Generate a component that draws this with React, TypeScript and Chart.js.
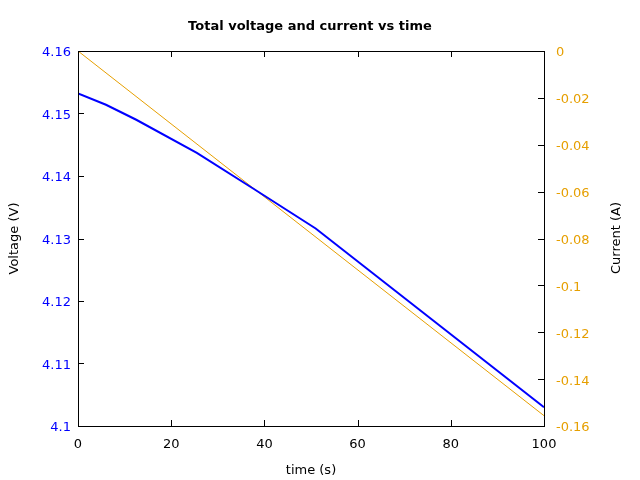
import React, { useEffect, useRef } from "react";
import { Chart, registerables } from "chart.js";

Chart.register(...registerables);

const timeVoltage = [0, 6, 12.5, 25.5, 38, 51, 100];
const voltage = [4.1532, 4.1514, 4.149, 4.1437, 4.1378, 4.1316, 4.103];
const timeCurrent = [0, 100];
const current = [0, -0.1556];
const xTicks = [0, 20, 40, 60, 80, 100];
const voltageTicks = [4.1, 4.11, 4.12, 4.13, 4.14, 4.15, 4.16];
const currentTicks = [0, -0.02, -0.04, -0.06, -0.08, -0.1, -0.12, -0.14, -0.16];

const BLUE = "#0000ff";
const ORANGE = "#e69f00";
const FONT = "'DejaVu Sans', sans-serif";

const framePlugin = {
  id: "frame",
  afterDatasetsDraw(chart: any) {
    const { ctx, chartArea } = chart;
    const { left, right, top, bottom } = chartArea;
    const x = chart.scales.x;
    const yv = chart.scales.yv;
    const yc = chart.scales.yc;
    const L = 6;
    ctx.save();
    ctx.strokeStyle = "#000";
    ctx.lineWidth = 1;
    ctx.beginPath();
    xTicks.forEach((v) => {
      const px = Math.round(x.getPixelForValue(v)) + 0.5;
      ctx.moveTo(px, bottom);
      ctx.lineTo(px, bottom - L);
      ctx.moveTo(px, top);
      ctx.lineTo(px, top + L);
    });
    voltageTicks.forEach((v) => {
      const py = Math.round(yv.getPixelForValue(v)) + 0.5;
      ctx.moveTo(left, py);
      ctx.lineTo(left + L, py);
    });
    currentTicks.forEach((v) => {
      const py = Math.round(yc.getPixelForValue(v)) + 0.5;
      ctx.moveTo(right, py);
      ctx.lineTo(right - L, py);
    });
    ctx.stroke();
    ctx.strokeRect(Math.round(left) + 0.5, Math.round(top) + 0.5, Math.round(right - left), Math.round(bottom - top));
    ctx.fillStyle = "#000";
    ctx.font = `bold 13px ${FONT}`;
    ctx.textAlign = "center";
    ctx.textBaseline = "middle";
    ctx.fillText("Total voltage and current vs time", 310, 27);
    ctx.font = `13px ${FONT}`;
    ctx.translate(617, 238);
    ctx.rotate(-Math.PI / 2);
    ctx.fillText("Current (A)", 0, 0);
    ctx.restore();
  },
};

export default function App() {
  const ref = useRef<HTMLCanvasElement>(null);
  useEffect(() => {
    if (!ref.current) return;
    const chart = new Chart(ref.current, {
      type: "line",
      data: {
        datasets: [
          {
            label: "Voltage",
            data: timeVoltage.map((t, i) => ({ x: t, y: voltage[i] })),
            borderColor: BLUE,
            borderWidth: 2,
            pointRadius: 0,
            tension: 0,
            yAxisID: "yv",
          },
          {
            label: "Current",
            data: timeCurrent.map((t, i) => ({ x: t, y: current[i] })),
            borderColor: ORANGE,
            borderWidth: 1,
            pointRadius: 0,
            tension: 0,
            yAxisID: "yc",
          },
        ],
      },
      options: {
        responsive: false,
        animation: false,
        layout: { padding: { top: 51, left: 0, right: 0, bottom: 0 } },
        plugins: { legend: { display: false }, tooltip: { enabled: false }, title: { display: false } },
        scales: {
          x: {
            type: "linear",
            min: 0,
            max: 100,
            afterFit: (s: any) => { s.height = 54; },
            afterBuildTicks: (s: any) => { s.ticks = xTicks.map((v) => ({ value: v })); },
            grid: { display: false, drawTicks: false },
            border: { display: false },
            ticks: { color: "#000", font: { family: FONT, size: 13 }, padding: 11, maxRotation: 0, callback: (v: any) => String(v) },
            title: { display: true, text: "time (s)", color: "#000", font: { family: FONT, size: 13 }, padding: { top: 0, bottom: 2 } },
          },
          yv: {
            type: "linear",
            position: "left",
            min: 4.1,
            max: 4.16,
            afterFit: (s: any) => { s.width = 78; },
            afterBuildTicks: (s: any) => { s.ticks = voltageTicks.map((v) => ({ value: v })); },
            grid: { display: false, drawTicks: false },
            border: { display: false },
            ticks: { color: BLUE, font: { family: FONT, size: 13 }, padding: 7, labelOffset: 2, callback: (v: any) => String(Number(Number(v).toFixed(2))) },
            title: { display: true, text: "Voltage (V)", color: "#000", font: { family: FONT, size: 13 }, padding: { top: 7, bottom: 0 } },
          },
          yc: {
            type: "linear",
            position: "right",
            min: -0.16,
            max: 0,
            afterFit: (s: any) => { s.width = 96; },
            afterBuildTicks: (s: any) => { s.ticks = currentTicks.map((v) => ({ value: v })); },
            grid: { display: false, drawTicks: false },
            border: { display: false },
            ticks: { color: ORANGE, font: { family: FONT, size: 13 }, padding: 12, labelOffset: 2, callback: (v: any) => String(Number(Number(v).toFixed(2))) },
            title: { display: false },
          },
        },
      },
      plugins: [framePlugin],
    } as any);
    return () => chart.destroy();
  }, []);
  return (
    <div style={{ position: "fixed", left: 0, top: 0, width: 640, height: 480, background: "#fff" }}>
      <canvas ref={ref} width={640} height={480} />
    </div>
  );
}
